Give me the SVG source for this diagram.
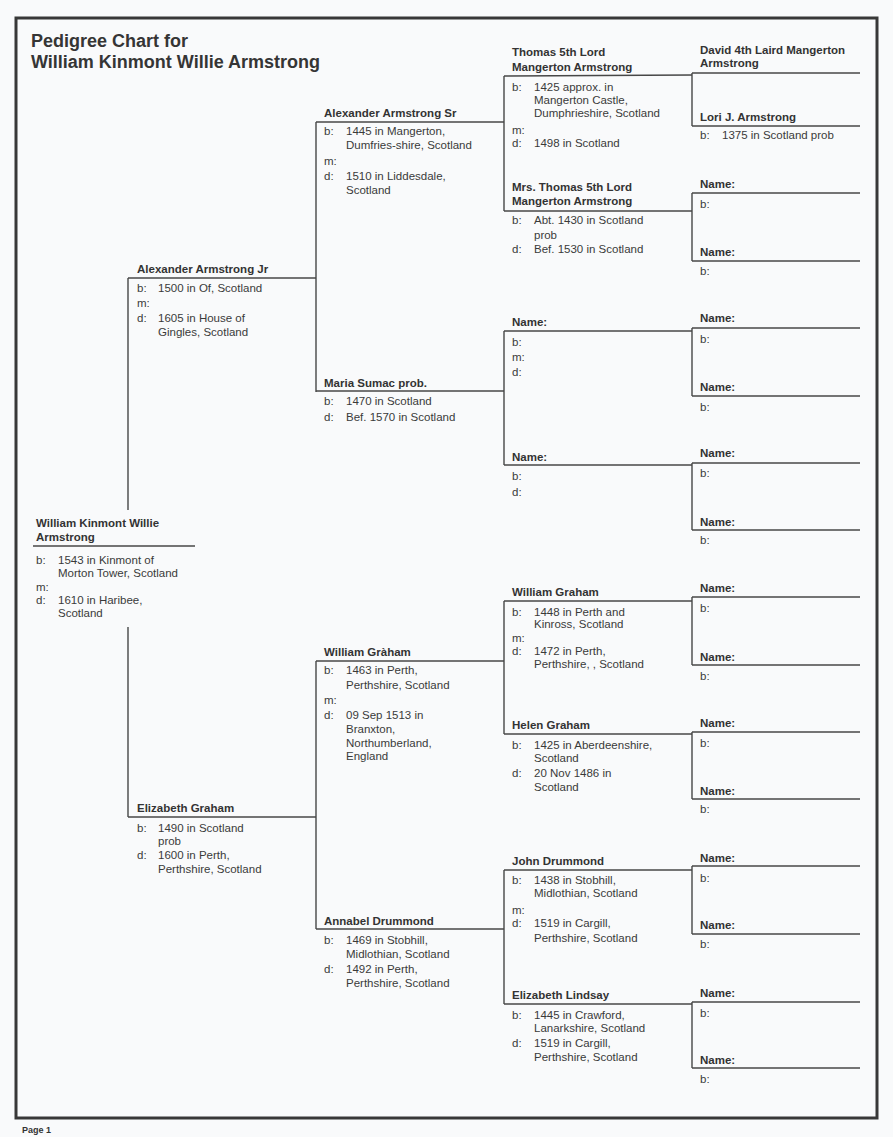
<svg xmlns="http://www.w3.org/2000/svg" width="893" height="1137" viewBox="0 0 893 1137">
<style>
.bg{fill:#f9fafb}
.frame{fill:none;stroke:#383838;stroke-width:3}
.ln{stroke:#474747;stroke-width:1.4;fill:none}
.nm{font-family:"Liberation Sans",Arial,sans-serif;font-weight:bold;font-size:11.5px;fill:#333}
.tx{font-family:"Liberation Sans",Arial,sans-serif;font-size:11.5px;fill:#3a3a3a}
.title{font-family:"Liberation Sans",Arial,sans-serif;font-weight:bold;font-size:18px;fill:#353535}
.pg{font-family:"Liberation Sans",Arial,sans-serif;font-weight:bold;font-size:9px;fill:#333}
</style>
<rect class="bg" x="0" y="0" width="893" height="1137"/>
<rect class="frame" x="16" y="18" width="861" height="1100"/>
<g id="title">
<text class="title" x="31" y="47">Pedigree Chart for</text>
<text class="title" x="31" y="68">William Kinmont Willie Armstrong</text>
</g>
<g id="connectors" class="ln">
<line x1="128" y1="278" x2="128" y2="510"/>
<line x1="128" y1="627" x2="128" y2="817"/>
<line x1="316" y1="122" x2="316" y2="392"/>
<line x1="316" y1="661" x2="316" y2="929"/>
<line x1="504" y1="76" x2="504" y2="211"/>
<line x1="504" y1="331" x2="504" y2="465"/>
<line x1="504" y1="601" x2="504" y2="734"/>
<line x1="504" y1="870" x2="504" y2="1004"/>
<line x1="692" y1="73" x2="692" y2="126"/>
<line x1="692" y1="193" x2="692" y2="261"/>
<line x1="692" y1="328" x2="692" y2="396"/>
<line x1="692" y1="463" x2="692" y2="530"/>
<line x1="692" y1="597" x2="692" y2="665"/>
<line x1="692" y1="732" x2="692" y2="799"/>
<line x1="692" y1="866" x2="692" y2="934"/>
<line x1="692" y1="1002" x2="692" y2="1068"/>
</g>
<g id="p1">
<text class="nm" x="36" y="527">William Kinmont Willie</text>
<text class="nm" x="36" y="541">Armstrong</text>
<line class="ln" x1="33" y1="546" x2="195" y2="546"/>
<text class="tx" x="36" y="564">b:</text><text class="tx" x="58" y="564">1543 in Kinmont of</text>
<text class="tx" x="58" y="577">Morton Tower, Scotland</text>
<text class="tx" x="36" y="591">m:</text>
<text class="tx" x="36" y="604">d:</text><text class="tx" x="58" y="604">1610 in Haribee,</text>
<text class="tx" x="58" y="617">Scotland</text>
</g>
<g id="p2">
<text class="nm" x="137" y="273">Alexander Armstrong Jr</text>
<line class="ln" x1="128" y1="278" x2="316" y2="278"/>
<text class="tx" x="137" y="292">b:</text><text class="tx" x="158" y="292">1500 in Of, Scotland</text>
<text class="tx" x="137" y="307">m:</text>
<text class="tx" x="137" y="322">d:</text><text class="tx" x="158" y="322">1605 in House of</text>
<text class="tx" x="158" y="336">Gingles, Scotland</text>
</g>
<g id="p3">
<text class="nm" x="137" y="812">Elizabeth Graham</text>
<line class="ln" x1="128" y1="817" x2="316" y2="817"/>
<text class="tx" x="137" y="832">b:</text><text class="tx" x="158" y="832">1490 in Scotland</text>
<text class="tx" x="158" y="845">prob</text>
<text class="tx" x="137" y="859">d:</text><text class="tx" x="158" y="859">1600 in Perth,</text>
<text class="tx" x="158" y="873">Perthshire, Scotland</text>
</g>
<g id="p4">
<text class="nm" x="324" y="117">Alexander Armstrong Sr</text>
<line class="ln" x1="316" y1="122" x2="504" y2="122"/>
<text class="tx" x="324" y="135">b:</text><text class="tx" x="346" y="135">1445 in Mangerton,</text>
<text class="tx" x="346" y="149">Dumfries-shire, Scotland</text>
<text class="tx" x="324" y="165">m:</text>
<text class="tx" x="324" y="180">d:</text><text class="tx" x="346" y="180">1510 in Liddesdale,</text>
<text class="tx" x="346" y="194">Scotland</text>
</g>
<g id="p5">
<text class="nm" x="324" y="387">Maria Sumac prob.</text>
<line class="ln" x1="316" y1="391" x2="504" y2="391"/>
<text class="tx" x="324" y="405">b:</text><text class="tx" x="346" y="405">1470 in Scotland</text>
<text class="tx" x="324" y="421">d:</text><text class="tx" x="346" y="421">Bef. 1570 in Scotland</text>
</g>
<g id="p6">
<text class="nm" x="324" y="656">William Gràham</text>
<line class="ln" x1="316" y1="661" x2="504" y2="661"/>
<text class="tx" x="324" y="674">b:</text><text class="tx" x="346" y="674">1463 in Perth,</text>
<text class="tx" x="346" y="689">Perthshire, Scotland</text>
<text class="tx" x="324" y="704">m:</text>
<text class="tx" x="324" y="719">d:</text><text class="tx" x="346" y="719">09 Sep 1513 in</text>
<text class="tx" x="346" y="733">Branxton,</text>
<text class="tx" x="346" y="747">Northumberland,</text>
<text class="tx" x="346" y="760">England</text>
</g>
<g id="p7">
<text class="nm" x="324" y="925">Annabel Drummond</text>
<line class="ln" x1="316" y1="929" x2="504" y2="929"/>
<text class="tx" x="324" y="944">b:</text><text class="tx" x="346" y="944">1469 in Stobhill,</text>
<text class="tx" x="346" y="958">Midlothian, Scotland</text>
<text class="tx" x="324" y="973">d:</text><text class="tx" x="346" y="973">1492 in Perth,</text>
<text class="tx" x="346" y="987">Perthshire, Scotland</text>
</g>
<g id="p8">
<text class="nm" x="512" y="56">Thomas 5th Lord</text>
<text class="nm" x="512" y="71">Mangerton Armstrong</text>
<line class="ln" x1="504" y1="76" x2="692" y2="75"/>
<text class="tx" x="512" y="91">b:</text><text class="tx" x="534" y="91">1425 approx. in</text>
<text class="tx" x="534" y="104">Mangerton Castle,</text>
<text class="tx" x="534" y="117">Dumphrieshire, Scotland</text>
<text class="tx" x="512" y="134">m:</text>
<text class="tx" x="512" y="147">d:</text><text class="tx" x="534" y="147">1498 in Scotland</text>
</g>
<g id="p9">
<text class="nm" x="512" y="191">Mrs. Thomas 5th Lord</text>
<text class="nm" x="512" y="205">Mangerton Armstrong</text>
<line class="ln" x1="504" y1="211" x2="692" y2="211"/>
<text class="tx" x="512" y="224">b:</text><text class="tx" x="534" y="224">Abt. 1430 in Scotland</text>
<text class="tx" x="534" y="239">prob</text>
<text class="tx" x="512" y="253">d:</text><text class="tx" x="534" y="253">Bef. 1530 in Scotland</text>
</g>
<g id="p10">
<text class="nm" x="512" y="326">Name:</text>
<line class="ln" x1="504" y1="331" x2="692" y2="331"/>
<text class="tx" x="512" y="346">b:</text>
<text class="tx" x="512" y="361">m:</text>
<text class="tx" x="512" y="376">d:</text>
</g>
<g id="p11">
<text class="nm" x="512" y="461">Name:</text>
<line class="ln" x1="504" y1="465" x2="692" y2="465"/>
<text class="tx" x="512" y="480">b:</text>
<text class="tx" x="512" y="496">d:</text>
</g>
<g id="p12">
<text class="nm" x="512" y="596">William Graham</text>
<line class="ln" x1="504" y1="601" x2="692" y2="601"/>
<text class="tx" x="512" y="616">b:</text><text class="tx" x="534" y="616">1448 in Perth and</text>
<text class="tx" x="534" y="628">Kinross, Scotland</text>
<text class="tx" x="512" y="642">m:</text>
<text class="tx" x="512" y="655">d:</text><text class="tx" x="534" y="655">1472 in Perth,</text>
<text class="tx" x="534" y="668">Perthshire, , Scotland</text>
</g>
<g id="p13">
<text class="nm" x="512" y="729">Helen Graham</text>
<line class="ln" x1="504" y1="734" x2="692" y2="734"/>
<text class="tx" x="512" y="749">b:</text><text class="tx" x="534" y="749">1425 in Aberdeenshire,</text>
<text class="tx" x="534" y="762">Scotland</text>
<text class="tx" x="512" y="777">d:</text><text class="tx" x="534" y="777">20 Nov 1486 in</text>
<text class="tx" x="534" y="791">Scotland</text>
</g>
<g id="p14">
<text class="nm" x="512" y="865">John Drummond</text>
<line class="ln" x1="504" y1="870" x2="692" y2="870"/>
<text class="tx" x="512" y="884">b:</text><text class="tx" x="534" y="884">1438 in Stobhill,</text>
<text class="tx" x="534" y="897">Midlothian, Scotland</text>
<text class="tx" x="512" y="914">m:</text>
<text class="tx" x="512" y="927">d:</text><text class="tx" x="534" y="927">1519 in Cargill,</text>
<text class="tx" x="534" y="942">Perthshire, Scotland</text>
</g>
<g id="p15">
<text class="nm" x="512" y="999">Elizabeth Lindsay</text>
<line class="ln" x1="504" y1="1004" x2="692" y2="1004"/>
<text class="tx" x="512" y="1019">b:</text><text class="tx" x="534" y="1019">1445 in Crawford,</text>
<text class="tx" x="534" y="1032">Lanarkshire, Scotland</text>
<text class="tx" x="512" y="1047">d:</text><text class="tx" x="534" y="1047">1519 in Cargill,</text>
<text class="tx" x="534" y="1061">Perthshire, Scotland</text>
</g>
<g id="p16">
<text class="nm" x="700" y="54">David 4th Laird Mangerton</text>
<text class="nm" x="700" y="67">Armstrong</text>
<line class="ln" x1="692" y1="73" x2="860" y2="73"/>
</g>
<g id="p17">
<text class="nm" x="700" y="121">Lori J. Armstrong</text>
<line class="ln" x1="692" y1="126" x2="860" y2="126"/>
<text class="tx" x="700" y="139">b:</text><text class="tx" x="722" y="139">1375 in Scotland prob</text>
</g>
<g id="p18"><text class="nm" x="700" y="188">Name:</text><line class="ln" x1="692" y1="193" x2="860" y2="193"/><text class="tx" x="700" y="208">b:</text></g>
<g id="p19"><text class="nm" x="700" y="256">Name:</text><line class="ln" x1="692" y1="261" x2="860" y2="261"/><text class="tx" x="700" y="275">b:</text></g>
<g id="p20"><text class="nm" x="700" y="322">Name:</text><line class="ln" x1="692" y1="328" x2="860" y2="328"/><text class="tx" x="700" y="343">b:</text></g>
<g id="p21"><text class="nm" x="700" y="391">Name:</text><line class="ln" x1="692" y1="396" x2="860" y2="396"/><text class="tx" x="700" y="411">b:</text></g>
<g id="p22"><text class="nm" x="700" y="457">Name:</text><line class="ln" x1="692" y1="463" x2="860" y2="463"/><text class="tx" x="700" y="477">b:</text></g>
<g id="p23"><text class="nm" x="700" y="526">Name:</text><line class="ln" x1="692" y1="530" x2="860" y2="530"/><text class="tx" x="700" y="544">b:</text></g>
<g id="p24"><text class="nm" x="700" y="592">Name:</text><line class="ln" x1="692" y1="597" x2="860" y2="597"/><text class="tx" x="700" y="612">b:</text></g>
<g id="p25"><text class="nm" x="700" y="661">Name:</text><line class="ln" x1="692" y1="665" x2="860" y2="665"/><text class="tx" x="700" y="680">b:</text></g>
<g id="p26"><text class="nm" x="700" y="727">Name:</text><line class="ln" x1="692" y1="732" x2="860" y2="732"/><text class="tx" x="700" y="747">b:</text></g>
<g id="p27"><text class="nm" x="700" y="795">Name:</text><line class="ln" x1="692" y1="799" x2="860" y2="799"/><text class="tx" x="700" y="813">b:</text></g>
<g id="p28"><text class="nm" x="700" y="862">Name:</text><line class="ln" x1="692" y1="866" x2="860" y2="866"/><text class="tx" x="700" y="882">b:</text></g>
<g id="p29"><text class="nm" x="700" y="929">Name:</text><line class="ln" x1="692" y1="934" x2="860" y2="934"/><text class="tx" x="700" y="948">b:</text></g>
<g id="p30"><text class="nm" x="700" y="997">Name:</text><line class="ln" x1="692" y1="1002" x2="860" y2="1002"/><text class="tx" x="700" y="1017">b:</text></g>
<g id="p31"><text class="nm" x="700" y="1064">Name:</text><line class="ln" x1="692" y1="1068" x2="860" y2="1068"/><text class="tx" x="700" y="1083">b:</text></g>
<text class="pg" x="22" y="1133">Page 1</text>
</svg>
